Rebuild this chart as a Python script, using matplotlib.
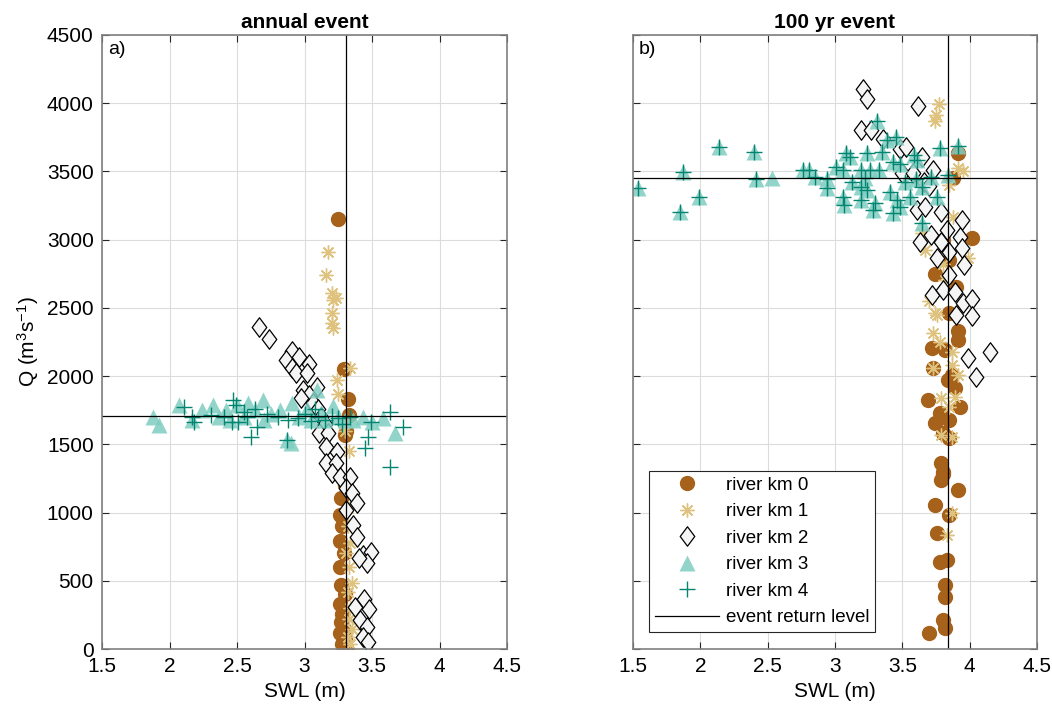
import matplotlib
matplotlib.use("Agg")
import matplotlib.pyplot as plt
from matplotlib.path import Path

plt.rcParams['font.family'] = ['Liberation Sans', 'DejaVu Sans']

# ---------------- annual event ----------------
a_km0_x = [3.25, 3.29, 3.32, 3.33, 3.31, 3.30, 3.30, 3.27, 3.26, 3.28, 3.26, 3.29, 3.26, 3.27,
           3.30, 3.26, 3.28, 3.27, 3.29, 3.26, 3.30, 3.28, 3.31]
a_km0_y = [3150, 2050, 1830, 1715, 1600, 1565, 1200, 1110, 980, 900, 790, 700, 600, 470,
           400, 330, 260, 200, 150, 120, 70, 40, 10]

a_km1_x = [3.17, 3.16, 3.20, 3.23, 3.21, 3.20, 3.20, 3.21, 3.34, 3.24, 3.25, 3.29, 3.30, 3.33,
           3.31, 3.35, 3.32, 3.34, 3.31, 3.33, 3.35, 3.32, 3.34, 3.33, 3.35, 3.32, 3.34]
a_km1_y = [2910, 2740, 2610, 2575, 2560, 2460, 2390, 2350, 2060, 1970, 1870, 1650, 1600, 1450,
           1200, 1050, 900, 780, 700, 600, 480, 420, 300, 220, 150, 90, 40]

a_km2_x = [2.66, 2.74, 2.91, 2.96, 2.86, 3.03, 2.91, 2.94, 3.02, 3.09, 2.99, 3.03, 2.97, 3.06,
           3.10, 3.12, 3.15, 3.11, 3.17, 3.16, 3.24, 3.16, 3.23, 3.20, 3.26, 3.34, 3.31, 3.35,
           3.31, 3.39, 3.36, 3.39, 3.43, 3.49, 3.46, 3.40, 3.37, 3.44, 3.48, 3.41, 3.46, 3.43, 3.47]
a_km2_y = [2360, 2270, 2180, 2140, 2120, 2090, 2060, 2020, 2020, 1920, 1900, 1860, 1840, 1800,
           1760, 1700, 1650, 1580, 1580, 1480, 1440, 1360, 1360, 1290, 1260, 1260, 1180, 1140,
           1020, 1070, 910, 820, 690, 710, 630, 670, 310, 370, 290, 210, 160, 90, 50]

a_km3_x = [1.88, 1.92, 2.07, 2.17, 2.24, 2.32, 2.37, 2.42, 2.50, 2.58, 2.63, 2.69, 2.75, 2.82,
           2.91, 2.96, 3.02, 3.09, 3.12, 3.21, 3.25, 2.87, 2.90, 3.36, 3.43, 3.50, 3.58, 3.67,
           3.30, 2.55, 2.45, 2.70, 3.05, 3.15]
a_km3_y = [1700, 1640, 1790, 1680, 1750, 1790, 1700, 1750, 1790, 1800, 1750, 1825, 1720, 1750,
           1800, 1700, 1760, 1900, 1730, 1780, 1700, 1530, 1510, 1680, 1700, 1660, 1690, 1580,
           1680, 1700, 1680, 1680, 1680, 1680]

a_km4_x = [2.11, 2.17, 2.18, 2.31, 2.47, 2.49, 2.46, 2.51, 2.55, 2.63, 2.65, 2.60, 2.72, 2.80,
           2.88, 2.95, 3.00, 3.05, 3.10, 3.15, 3.20, 3.25, 3.34, 3.49, 3.63, 3.73, 3.47, 3.45,
           3.63, 2.87, 2.40, 2.57, 3.08, 3.28]
a_km4_y = [1775, 1700, 1665, 1715, 1825, 1790, 1665, 1665, 1740, 1760, 1630, 1555, 1720, 1700,
           1680, 1690, 1720, 1670, 1700, 1680, 1710, 1690, 1700, 1660, 1740, 1630, 1555, 1475,
           1330, 1530, 1700, 1700, 1760, 1650]

a_swl_level = 3.31
a_q_level = 1705

# ---------------- 100 yr event ----------------
b_km0_x = [3.91, 4.02, 3.85, 3.74, 3.90, 3.85, 3.91, 3.72, 3.82, 3.91, 3.73, 3.87, 3.84, 3.89,
           3.69, 3.93, 3.78, 3.85, 3.74, 3.80, 3.85, 3.79, 3.80, 3.79, 3.91, 3.80, 3.74, 3.85,
           3.76, 3.78, 3.83, 3.82, 3.82, 3.80, 3.82, 3.70, 3.88, 3.80]
b_km0_y = [3635, 3010, 2850, 2750, 2650, 2465, 2330, 2205, 2190, 2265, 2060, 2010, 1970, 1915,
           1825, 1775, 1730, 1680, 1655, 1585, 1545, 1365, 1300, 1240, 1165, 1280, 1055, 980,
           850, 640, 650, 470, 380, 215, 155, 115, 3450, 3000]

b_km1_x = [3.77, 3.75, 3.74, 3.91, 3.85, 3.88, 3.65, 3.99, 3.67, 3.80, 3.74, 3.73, 3.76, 3.78,
           3.87, 3.73, 3.87, 3.91, 3.79, 3.89, 3.85, 3.79, 3.87, 3.87, 3.83, 3.95, 3.82, 3.70]
b_km1_y = [3995, 3915, 3865, 3525, 3400, 3165, 3050, 2865, 2925, 2820, 2460, 2315, 2450, 2250,
           2175, 2060, 2080, 2010, 1840, 1845, 1775, 1570, 1555, 995, 835, 3500, 2700, 2550]

b_km2_x = [3.21, 3.24, 3.62, 3.19, 3.27, 3.36, 3.48, 3.53, 3.65, 3.50, 3.58, 3.73, 3.66, 3.70,
           3.61, 3.79, 3.67, 3.94, 3.83, 3.63, 3.71, 3.79, 3.93, 3.85, 3.94, 3.76, 3.96, 3.85,
           3.72, 3.80, 3.89, 3.95, 4.02, 3.90, 4.02, 4.15, 3.99, 4.05]
b_km2_y = [4105, 4030, 3980, 3800, 3800, 3740, 3660, 3680, 3605, 3490, 3490, 3510, 3420, 3390,
           3220, 3205, 3240, 3145, 3070, 2985, 3035, 2985, 3020, 2910, 2940, 2865, 2815, 2740,
           2595, 2630, 2615, 2535, 2565, 2450, 2440, 2175, 2135, 1995]

b_km3_x = [1.54, 1.87, 1.85, 1.99, 2.14, 2.40, 2.41, 2.53, 2.76, 2.81, 2.85, 2.94, 2.94, 3.01,
           3.06, 3.08, 3.11, 3.06, 3.07, 3.19, 3.24, 3.31, 3.26, 3.19, 3.24, 3.19, 3.30, 3.28,
           3.33, 3.35, 3.39, 3.45, 3.43, 3.48, 3.41, 3.46, 3.43, 3.48, 3.56, 3.59, 3.61, 3.65,
           3.71, 3.76, 3.78, 3.91, 3.84, 3.65, 3.13, 3.22, 3.52, 3.60]
b_km3_y = [3380, 3495, 3200, 3310, 3680, 3645, 3440, 3450, 3510, 3510, 3460, 3440, 3380, 3535,
           3510, 3635, 3605, 3310, 3255, 3510, 3635, 3865, 3510, 3385, 3365, 3290, 3270, 3220,
           3510, 3645, 3730, 3755, 3565, 3550, 3350, 3290, 3195, 3240, 3310, 3620, 3585, 3385,
           3460, 3310, 3670, 3685, 3475, 3120, 3420, 3450, 3420, 3440]

b_km4_x = [1.54, 1.87, 1.85, 1.99, 2.14, 2.40, 2.41, 2.76, 2.81, 2.85, 2.94, 2.94, 3.01,
           3.06, 3.08, 3.11, 3.06, 3.07, 3.19, 3.24, 3.31, 3.26, 3.19, 3.24, 3.19, 3.30, 3.28,
           3.33, 3.35, 3.39, 3.45, 3.43, 3.48, 3.41, 3.46, 3.43, 3.48, 3.56, 3.59, 3.61, 3.65,
           3.71, 3.76, 3.78, 3.91, 3.84, 3.65, 3.13, 3.22, 3.52, 3.60]
b_km4_y = [3380, 3495, 3200, 3310, 3680, 3645, 3440, 3510, 3510, 3460, 3440, 3380, 3535,
           3510, 3635, 3605, 3310, 3255, 3510, 3635, 3865, 3510, 3385, 3365, 3290, 3270, 3220,
           3510, 3645, 3730, 3755, 3565, 3550, 3350, 3290, 3195, 3240, 3310, 3620, 3585, 3385,
           3460, 3310, 3670, 3685, 3475, 3120, 3420, 3450, 3420, 3440]

b_swl_level = 3.84
b_q_level = 3450

series_names = ["river km 0", "river km 1", "river km 2", "river km 3", "river km 4"]
x_ticks = [1.5, 2, 2.5, 3, 3.5, 4, 4.5]
x_tick_labels = ["1.5", "2", "2.5", "3", "3.5", "4", "4.5"]
y_ticks = [0, 500, 1000, 1500, 2000, 2500, 3000, 3500, 4000, 4500]

# BrBG palette
c0 = "#a6611a"
c1 = "#dfc27d"
c2 = "#f5f5f5"
c3 = "#80cdc1"
c4 = "#018571"

# wider diamond than matplotlib's 'd'
diamond = Path([(0, 1), (0.75, 0), (0, -1), (-0.75, 0), (0, 1)],
               [Path.MOVETO, Path.LINETO, Path.LINETO, Path.LINETO, Path.CLOSEPOLY])


def draw_panel(ax, km_x, km_y, swl, q, title, tag):
    ax.plot(km_x[0], km_y[0], 'o', ls='none', ms=10, mfc=c0, mec=c0, label=series_names[0])
    ax.plot(km_x[1], km_y[1], marker=(8, 2, 0), ls='none', ms=10, mec=c1, mew=1.0,
            label=series_names[1])
    ax.plot(km_x[2], km_y[2], marker=diamond, ls='none', ms=14, mfc=c2, mec='k', mew=0.9,
            label=series_names[2])
    ax.plot(km_x[3], km_y[3], '^', ls='none', ms=12, mfc=c3, mec='none', alpha=0.85,
            label=series_names[3])
    ax.plot(km_x[4], km_y[4], '+', ls='none', ms=12, mec=c4, mew=1.0, label=series_names[4])
    ax.axvline(swl, color='k', lw=0.9, label="event return level")
    ax.axhline(q, color='k', lw=0.9)

    ax.set_xlim(1.5, 4.5)
    ax.set_ylim(0, 4500)
    ax.set_xticks(x_ticks)
    ax.set_xticklabels(x_tick_labels)
    ax.set_yticks(y_ticks)
    ax.grid(True, color='#dcdcdc', lw=0.8)
    ax.set_axisbelow(True)
    ax.tick_params(direction='in', top=True, right=True, length=5, width=0.8,
                   color='#262626', labelsize=15, pad=6)
    for sp in ax.spines.values():
        sp.set_color('#808080')
        sp.set_linewidth(1.2)
    ax.set_xlabel("SWL (m)", fontsize=15)
    ax.set_title(title, fontsize=15, fontweight='bold', pad=5)
    ax.text(0.015, 0.99, tag, transform=ax.transAxes, ha='left', va='top', fontsize=14)


fig = plt.figure(figsize=(10.52, 7.15), dpi=100)
ax1 = fig.add_axes([0.097, 0.0923, 0.385, 0.859])
ax2 = fig.add_axes([0.6017, 0.0923, 0.384, 0.859])

draw_panel(ax1, [a_km0_x, a_km1_x, a_km2_x, a_km3_x, a_km4_x],
           [a_km0_y, a_km1_y, a_km2_y, a_km3_y, a_km4_y],
           a_swl_level, a_q_level, "annual event", "a)")
draw_panel(ax2, [b_km0_x, b_km1_x, b_km2_x, b_km3_x, b_km4_x],
           [b_km0_y, b_km1_y, b_km2_y, b_km3_y, b_km4_y],
           b_swl_level, b_q_level, "100 yr event", "b)")

ax1.set_ylabel(r"Q (m$\mathregular{^3}$s$\mathregular{^{-1}}$)", fontsize=15)
ax2.set_yticklabels([])

leg = ax2.legend(loc='lower left', bbox_to_anchor=(0.04, 0.028), borderaxespad=0,
                 fontsize=13.5, fancybox=False, edgecolor='#262626', framealpha=1,
                 handlelength=3.4, borderpad=0.3, labelspacing=0.5, handletextpad=0.4)
leg.get_frame().set_linewidth(0.8)

plt.savefig("out.png", dpi=100)
